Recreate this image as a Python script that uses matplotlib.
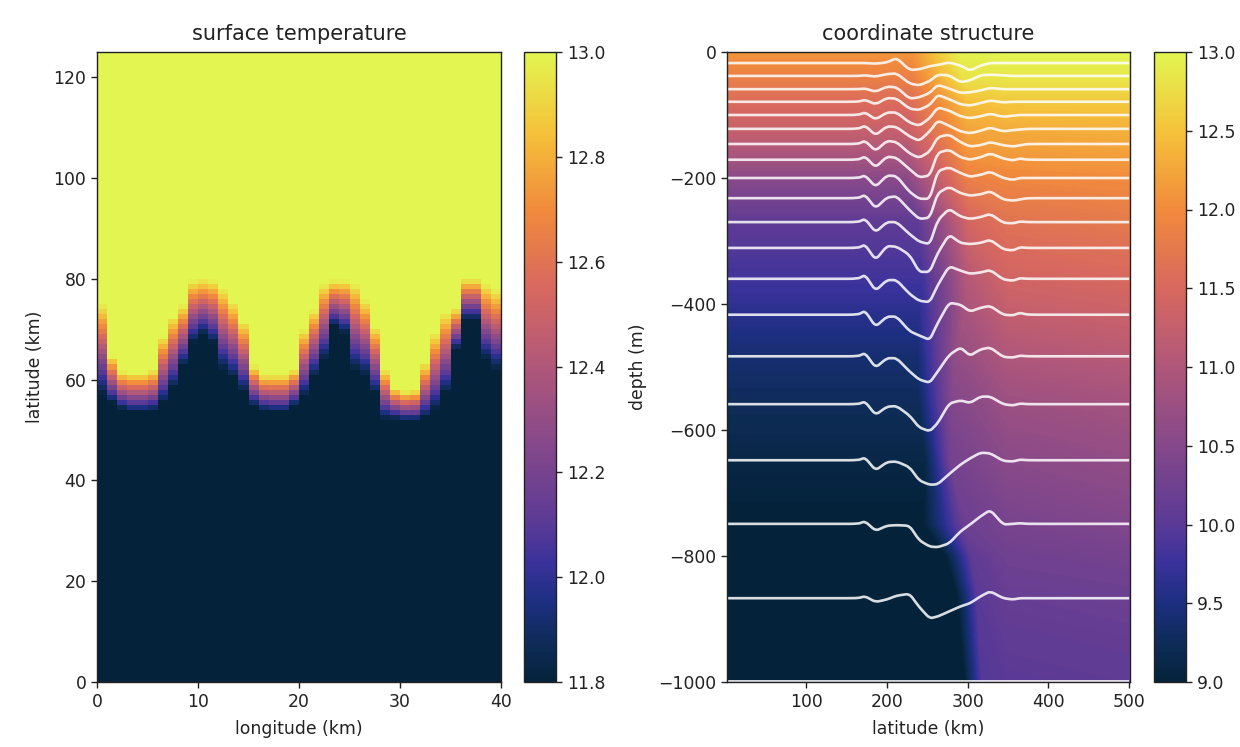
import numpy as np
from matplotlib import pyplot as plt
from matplotlib.cm import ScalarMappable
from matplotlib.colors import LinearSegmentedColormap, Normalize
from matplotlib.patches import PathPatch
from matplotlib.path import Path

# left panel, front edges per 1 km column
yellow_edge = [75.1, 64.6, 61.7, 61.4, 61.4, 62.0, 68.6, 72.5, 74.8, 79.7,
               80.0, 79.7, 78.1, 75.5, 71.5, 62.7, 61.0, 61.0, 61.0, 62.0,
               69.9, 73.8, 79.0, 79.7, 79.7, 79.0, 75.8, 70.5, 62.0, 58.4,
               57.7, 58.0, 63.3, 69.2, 73.2, 74.1, 80.0, 80.0, 79.0, 77.8]
dark_edge = [57.1, 55.4, 54.1, 53.5, 53.5, 53.8, 55.4, 58.4, 62.7, 67.3,
             68.9, 67.3, 62.0, 60.4, 57.7, 54.8, 53.8, 53.5, 53.5, 54.8,
             56.8, 60.7, 64.0, 70.5, 69.2, 62.0, 61.0, 57.4, 52.2, 52.2,
             51.8, 51.8, 52.5, 54.1, 57.4, 65.9, 71.8, 71.8, 64.0, 62.0]

# right panel, temperature table
table_depth = [0, -40, -80, -120, -160, -200, -270, -360, -420, -480, -560, -650, -750, -800, -860, -1000]
front_start = [232, 232, 228, 225, 225, 225, 238, 245, 240, 238, 240, 248, 245, 272, 285, 295]
front_end = [290, 295, 300, 300, 300, 300, 303, 300, 295, 285, 280, 280, 296, 305, 312, 318]
temp_west = [12.1, 11.85, 11.55, 11.3, 10.95, 10.55, 10.05, 9.8, 9.6, 9.4, 9.25, 9.1, 8.98, 8.95, 8.92, 8.9]
temp_front = [12.95, 12.8, 12.45, 12.25, 12.1, 11.85, 11.45, 11.05, 10.85, 10.65, 10.45, 10.3, 10.2, 10.05, 10.0, 9.95]
temp_350 = [13.0, 12.85, 12.55, 12.3, 12.15, 11.95, 11.65, 11.4, 11.2, 11.0, 10.75, 10.55, 10.35, 10.25, 10.15, 10.0]
temp_east = [13.0, 12.85, 12.55, 12.35, 12.2, 12.0, 11.75, 11.5, 11.3, 11.1, 10.85, 10.65, 10.45, 10.32, 10.2, 10.05]

# white coordinate lines
line_lat = [2, 164, 173, 186, 200, 212, 228, 240, 253, 263, 277, 291, 303, 316, 328, 344, 356, 365, 374, 500]
line_rest = [-17.5, -38, -59, -79, -100, -122, -146, -171, -200, -232, -270, -311, -360, -417, -483, -559, -648, -749, -867, -999]
line_anom = [
    [0, 0, -1, 1, 8, -11, -10, -5, -3, 1, -4, -12, -4, 0, 0, 0, 0, 0],
    [0, 1, -1, 3, 4, -12, -15, -8, 2, 1, -10, -7, 1, 2, 1, 0, 0, 0],
    [0, 1, -4, 4, 3, -15, -13, -6, 7, 1, -6, -5, -2, 2, 0, 0, 0, 0],
    [0, 3, -4, 6, 5, -11, -13, -5, 11, 4, -4, -6, -2, 2, -1, 0, 0, 0],
    [0, 4, -7, 4, 4, -12, -17, -5, 12, 7, -2, -5, -2, 2, -3, -1, 0, 0],
    [0, 5, -10, 4, 3, -12, -19, -4, 13, 5, -4, -7, -3, 2, -4, -2, -1, 0],
    [0, 5, -11, 5, 3, -15, -22, -12, 11, 15, 3, -4, -2, 3, -2, -4, -2, 0],
    [0, 5, -12, 5, 3, -15, -28, -25, 11, 16, 4, 0, 4, 10, 2, -1, 2, 0],
    [0, 4, -14, 4, 3, -22, -33, -33, 11, 17, 8, 2, 5, 10, 0, -3, 0, 0],
    [0, 5, -16, 1, 3, -19, -33, -31, 8, 18, 8, 4, 6, 11, -2, -4, -2, 0],
    [0, 5, -16, 0, 0, -19, -31, -35, 3, 21, 9, 5, 8, 13, -1, -2, 1, 0],
    [0, 5, -19, 3, 2, -11, -38, -38, -8, 21, 8, 6, 8, 13, -2, -4, 1, 0],
    [0, 6, -19, -2, -2, -24, -35, -37, -10, 20, 13, 8, 10, 14, -1, -3, 1, 0],
    [0, 6, -19, -3, -3, -26, -33, -40, -13, 19, 16, 5, 11, 14, 0, -1, 3, 0],
    [0, 5, -18, -3, -3, -24, -37, -42, -24, 2, 14, 1, 11, 14, -1, -2, 1, 0],
    [0, 4, -17, -4, -3, -18, -37, -43, -30, 1, 6, 2, 12, 12, 0, -2, 1, 0],
    [0, 4, -16, -3, -2, -11, -32, -39, -38, -22, -7, 3, 12, 11, -1, -2, 1, 0],
    [0, 4, -11, -3, -2, -3, -26, -36, -37, -31, -12, -1, 12, 22, -1, 0, 1, 0],
    [0, 3, -6, -2, 4, 7, -14, -32, -29, -21, -13, -8, 3, 11, 0, -2, 0, 0],
    [0] * 18,
]

left_ticks = [11.8, 12.0, 12.2, 12.4, 12.6, 12.8, 13.0]
right_ticks = [9.0, 9.5, 10.0, 10.5, 11.0, 11.5, 12.0, 12.5, 13.0]

thermal = LinearSegmentedColormap.from_list('thermal', [
    (0.0, '#04233a'), (0.06, '#0e2c58'), (0.125, '#1c2f80'), (0.19, '#3b329c'),
    (0.25, '#5a3a96'), (0.375, '#85488a'), (0.5, '#b0577a'), (0.625, '#d8685f'),
    (0.75, '#f18a3c'), (0.875, '#f5c23a'), (1.0, '#e2f550')], N=256)

W, H = 1240, 747


def box(x0, x1, y0, y1):
    return [x0 / W, 1 - y1 / H, (x1 - x0) / W, (y1 - y0) / H]


def rounded_line(x, y, cut=0.3):
    # straight between read points, small bezier round each corner
    pts = np.column_stack([x, y])
    verts = [pts[0]]
    codes = [Path.MOVETO]
    for i in range(1, len(pts) - 1):
        a = pts[i]
        dx_prev = min(cut, 12 / abs(pts[i - 1][0] - a[0]))
        dx_next = min(cut, 12 / abs(pts[i + 1][0] - a[0]))
        verts += [a + dx_prev * (pts[i - 1] - a), a, a + dx_next * (pts[i + 1] - a)]
        codes += [Path.LINETO, Path.CURVE3, Path.CURVE3]
    verts.append(pts[-1])
    codes.append(Path.LINETO)
    return Path(verts, codes)


plt.rcParams.update({'font.size': 12.4, 'axes.linewidth': 1.0, 'xtick.major.size': 4.2,
                     'ytick.major.size': 4.2, 'xtick.major.width': 1.0, 'ytick.major.width': 1.0,
                     'xtick.color': '#222222', 'ytick.color': '#222222', 'axes.labelcolor': '#222222',
                     'axes.edgecolor': '#222222', 'text.color': '#222222'})
fig = plt.figure(figsize=(W / 100, H / 100), dpi=100)

# surface temperature
ax1 = fig.add_axes(box(97, 501, 52, 682))
lon_edges = np.arange(len(yellow_edge) + 1)
lat_centers = np.arange(0.5, 125)
lat_edges = np.arange(0, 126)
surf = np.column_stack([np.interp(lat_centers, [d, y], [11.8, 13.0])
                        for d, y in zip(dark_edge, yellow_edge)])
ax1.pcolormesh(lon_edges, lat_edges, surf, cmap=thermal, vmin=11.8, vmax=13.0)
ax1.set_xlim(0, 40)
ax1.set_ylim(0, 125)
ax1.set_xticks([0, 10, 20, 30, 40])
ax1.set_yticks([0, 20, 40, 60, 80, 100, 120])
ax1.set_xlabel('longitude (km)', labelpad=7)
ax1.set_ylabel('latitude (km)', labelpad=7)
ax1.set_title('surface temperature', fontsize=15, pad=9)

cax1 = fig.add_axes(box(524, 556, 52, 682))
cb1 = fig.colorbar(ScalarMappable(Normalize(11.8, 13.0), thermal), cax=cax1)
cb1.set_ticks(left_ticks)

# coordinate structure
ax2 = fig.add_axes(box(727, 1130, 52, 682))
n = len(table_depth)
lat_mesh = np.column_stack([[2] * n, front_start, front_end, [350] * n, [500] * n])
depth_mesh = np.column_stack([table_depth] * 5)
temp_mesh = np.column_stack([temp_west, temp_west, temp_front, temp_350, temp_east])
ax2.contourf(lat_mesh, depth_mesh, temp_mesh, levels=np.linspace(9, 13, 161),
             cmap=thermal, extend='both')
for rest, anom in zip(line_rest, line_anom):
    depth = rest + np.array([0] + anom + [0])
    ax2.add_patch(PathPatch(rounded_line(line_lat, depth), fill=False, edgecolor='white',
                            lw=1.9, alpha=0.85, joinstyle='round'))
ax2.set_xlim(2, 501)
ax2.set_ylim(-1000, 0)
ax2.set_xticks([100, 200, 300, 400, 500])
ax2.set_yticks([0, -200, -400, -600, -800, -1000])
ax2.set_yticklabels(['0', '\u2212200', '\u2212400', '\u2212600', '\u2212800', '\u22121000'])
ax2.set_xlabel('latitude (km)', labelpad=7)
ax2.set_ylabel('depth (m)', labelpad=8)
ax2.set_title('coordinate structure', fontsize=15, pad=9)

cax2 = fig.add_axes(box(1154, 1186, 52, 682))
cb2 = fig.colorbar(ScalarMappable(Normalize(9, 13), thermal), cax=cax2)
cb2.set_ticks(right_ticks)

fig.savefig('out.png', dpi=100)
